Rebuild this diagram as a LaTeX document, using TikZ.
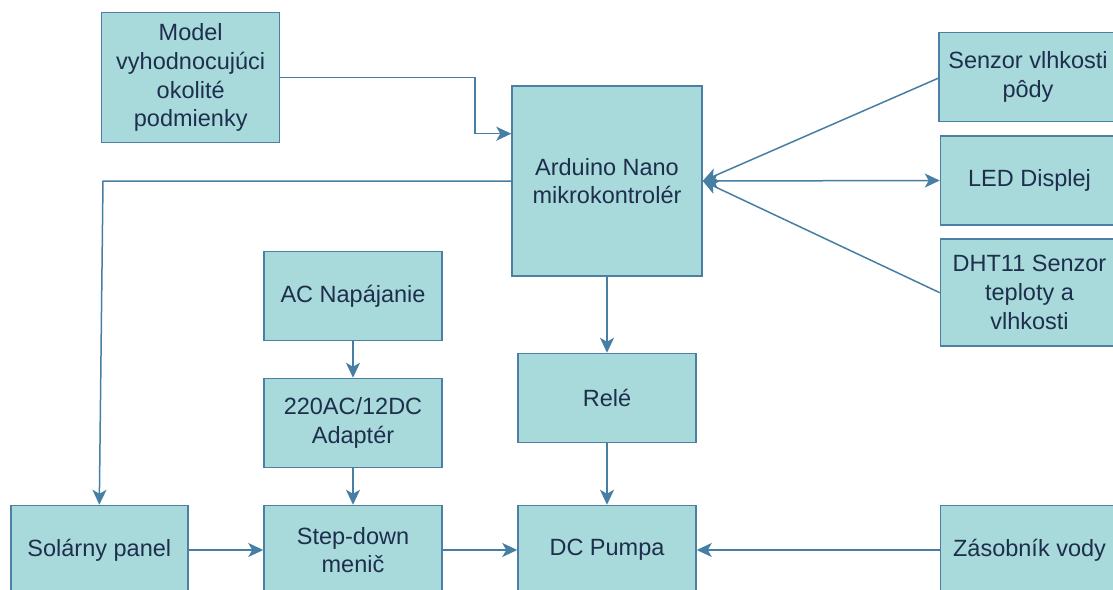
\documentclass[tikz,border=0pt]{standalone}
\usepackage{fontspec}
\setmainfont{Liberation Sans}
\usetikzlibrary{arrows.meta,calc}
\definecolor{boxfill}{HTML}{A8D9DB}
\definecolor{boxline}{HTML}{4C7FA3}
\definecolor{wire}{HTML}{467FA3}
\definecolor{txt}{HTML}{1E2F4D}
\tikzset{
  blk/.style={draw=boxline, line width=1.5pt, fill=boxfill, inner sep=0pt,
    align=center, text=txt, font=\fontsize{23.5}{28.8}\selectfont},
  arr/.style={draw=wire, line width=1.5pt, -{Stealth[length=15pt,width=14pt,inset=4pt]}},
  dbl/.style={draw=wire, line width=1.5pt, {Stealth[length=15pt,width=14pt,inset=4pt]}-{Stealth[length=15pt,width=14pt,inset=4pt]}}
}
\begin{document}
\begin{tikzpicture}[x=1pt,y=-1pt]
\useasboundingbox (0,0) rectangle (1113,589);
\clip (0,0) rectangle (1113,589);
\fill[white] (0,0) rectangle (1113,589);
\node[blk, minimum width=178pt, minimum height=130pt] (model) at (190.7,77.7) {Model\\vyhodnocujúci\\okolité\\podmienky};
\node[blk, minimum width=190pt, minimum height=190pt] (ard) at (607,181) {Arduino Nano\\mikrokontrolér};
\node[blk, minimum width=178pt, minimum height=89pt] (ac) at (353,296) {AC Napájanie};
\node[blk, minimum width=178pt, minimum height=89pt] (adapt) at (353,423) {220AC/12DC\\Adaptér};
\node[blk, minimum width=178pt, minimum height=89pt] (step) at (353,550) {Step-down\\menič};
\node[blk, minimum width=177pt, minimum height=89pt] (solar) at (99.3,550) {Solárny panel};
\node[blk, minimum width=178pt, minimum height=89pt] (rele) at (607,398) {Relé};
\node[blk, minimum width=178pt, minimum height=89pt] (pump) at (607,550) {DC Pumpa};
\node[blk, minimum width=178pt, minimum height=89pt] (senz) at (1028,77.2) {Senzor vlhkosti\\pôdy};
\node[blk, minimum width=178pt, minimum height=89pt] (led) at (1029.5,180.5) {LED Displej};
\node[blk, minimum width=178pt, minimum height=107pt] (dht) at (1029.5,292.7) {DHT11 Senzor\\teploty a\\vlhkosti};
\node[blk, minimum width=178pt, minimum height=89pt] (zas) at (1029.5,550) {Zásobník vody};
\coordinate (mbend) at (475,77.7);
\coordinate (sbend) at (103,181);
\draw[arr] (model.east) -- (mbend) |- ($(ard.west)+(0,-47.3)$);
\draw[arr] (ard.west) -- (sbend) -- (solar.north);
\draw[arr] (ard.south) -- (rele.north);
\draw[arr] (rele.south) -- (pump.north);
\draw[arr] (ac.south) -- (adapt.north);
\draw[arr] (adapt.south) -- (step.north);
\draw[arr] (solar.east) -- (step.west);
\draw[arr] (step.east) -- (pump.west);
\draw[arr] (zas.west) -- (pump.east);
\draw[arr] ($(senz.west)+(0,1)$) -- (ard.east);
\draw[dbl] (ard.east) -- (led.west);
\draw[arr] (dht.west) -- (ard.east);
\end{tikzpicture}
\end{document}
